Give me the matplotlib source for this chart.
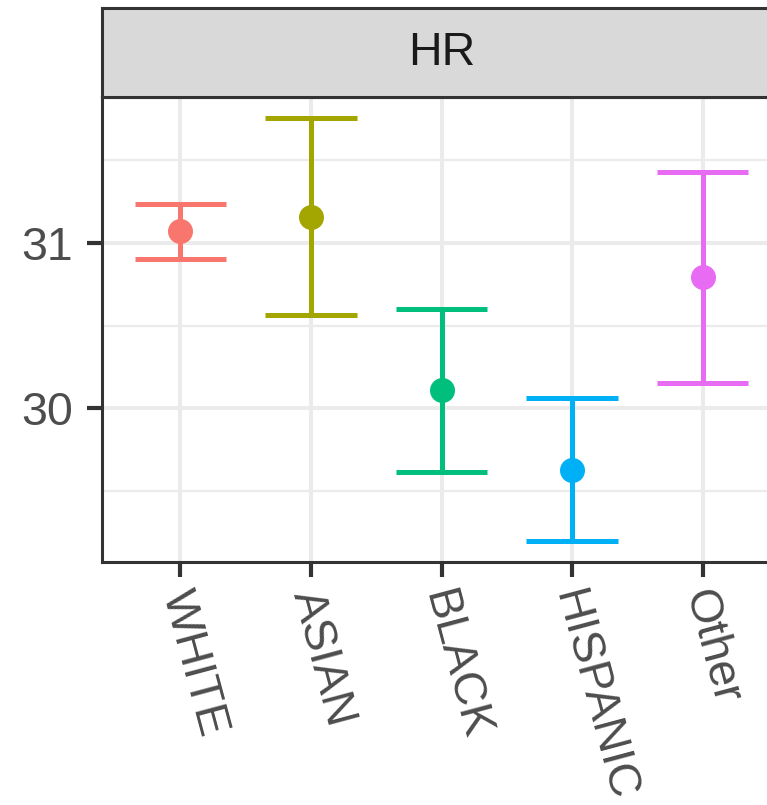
import matplotlib
matplotlib.use("Agg")
import matplotlib.pyplot as plt
import matplotlib.transforms as mtransforms
import numpy as np

plt.rcParams['font.family'] = ['Liberation Sans', 'DejaVu Sans']

categories = ["WHITE", "ASIAN", "BLACK", "HISPANIC", "Other"]
means = [31.070, 31.160, 30.110, 29.630, 30.793]
upper = [31.237, 31.755, 30.602, 30.062, 31.428]
lower = [30.904, 30.566, 29.616, 29.199, 30.152]
colors = ["#F8766D", "#A3A500", "#00BF7D", "#00B0F6", "#E76BF3"]
facet_label = "HR"
y_major = [30, 31]
y_minor = [29.5, 30.5, 31.5]

W, H = 767, 805
fig = plt.figure(figsize=(W / 100, H / 100), dpi=100)
fig.patch.set_facecolor("white")

left, right, top, bottom = 102, 781, 97, 562
ax = fig.add_axes([left / W, (H - bottom) / H, (right - left) / W, (bottom - top) / H])
ax.set_facecolor("white")

x = np.arange(len(categories))
ax.set_xlim(-0.6, len(categories) - 1 + 0.6)
lo, hi = min(lower), max(upper)
rng = hi - lo
ax.set_ylim(lo - 0.05 * rng, hi + 0.05 * rng)

ax.set_yticks(y_major)
ax.set_yticks(y_minor, minor=True)
ax.set_xticks(x)
ax.set_xticklabels(categories)

ax.grid(True, which="major", color="#EBEBEB", linewidth=2.9, zorder=0)
ax.grid(True, which="minor", axis="y", color="#EBEBEB", linewidth=1.6, zorder=0)
ax.set_axisbelow(True)

half = 0.35
for i in range(len(categories)):
    ax.vlines(x[i], lower[i], upper[i], color=colors[i], linewidth=3.6, zorder=3)
    ax.hlines([lower[i], upper[i]], x[i] - half, x[i] + half, color=colors[i],
              linewidth=3.6, zorder=3)
    ax.plot(x[i], means[i], "o", color=colors[i], markersize=18, markeredgewidth=0, zorder=4)

for s in ax.spines.values():
    s.set_color("#333333")
    s.set_linewidth(2.2)

ax.tick_params(axis="both", which="major", length=11, width=3, color="#333333",
               labelcolor="#4D4D4D", labelsize=33.5)
ax.tick_params(axis="y", which="major", pad=10)
ax.tick_params(axis="both", which="minor", length=0)
ax.tick_params(axis="x", pad=10)
offset = mtransforms.ScaledTranslation(-6 / 100, 0, fig.dpi_scale_trans)
for lab in ax.get_xticklabels():
    lab.set_rotation(-75)
    lab.set_rotation_mode("anchor")
    lab.set_ha("left")
    lab.set_va("center")
    lab.set_transform(lab.get_transform() + offset)

# facet strip
sax = fig.add_axes([left / W, (H - top) / H, (right - left) / W, (top - 8) / H])
sax.set_facecolor("#D9D9D9")
sax.set_xticks([])
sax.set_yticks([])
for s in sax.spines.values():
    s.set_color("#333333")
    s.set_linewidth(2.2)
sax.text(0.5, 0.5, facet_label, transform=sax.transAxes, ha="center", va="center",
         fontsize=33.5, color="#1A1A1A")

fig.savefig("out.png", dpi=100)
